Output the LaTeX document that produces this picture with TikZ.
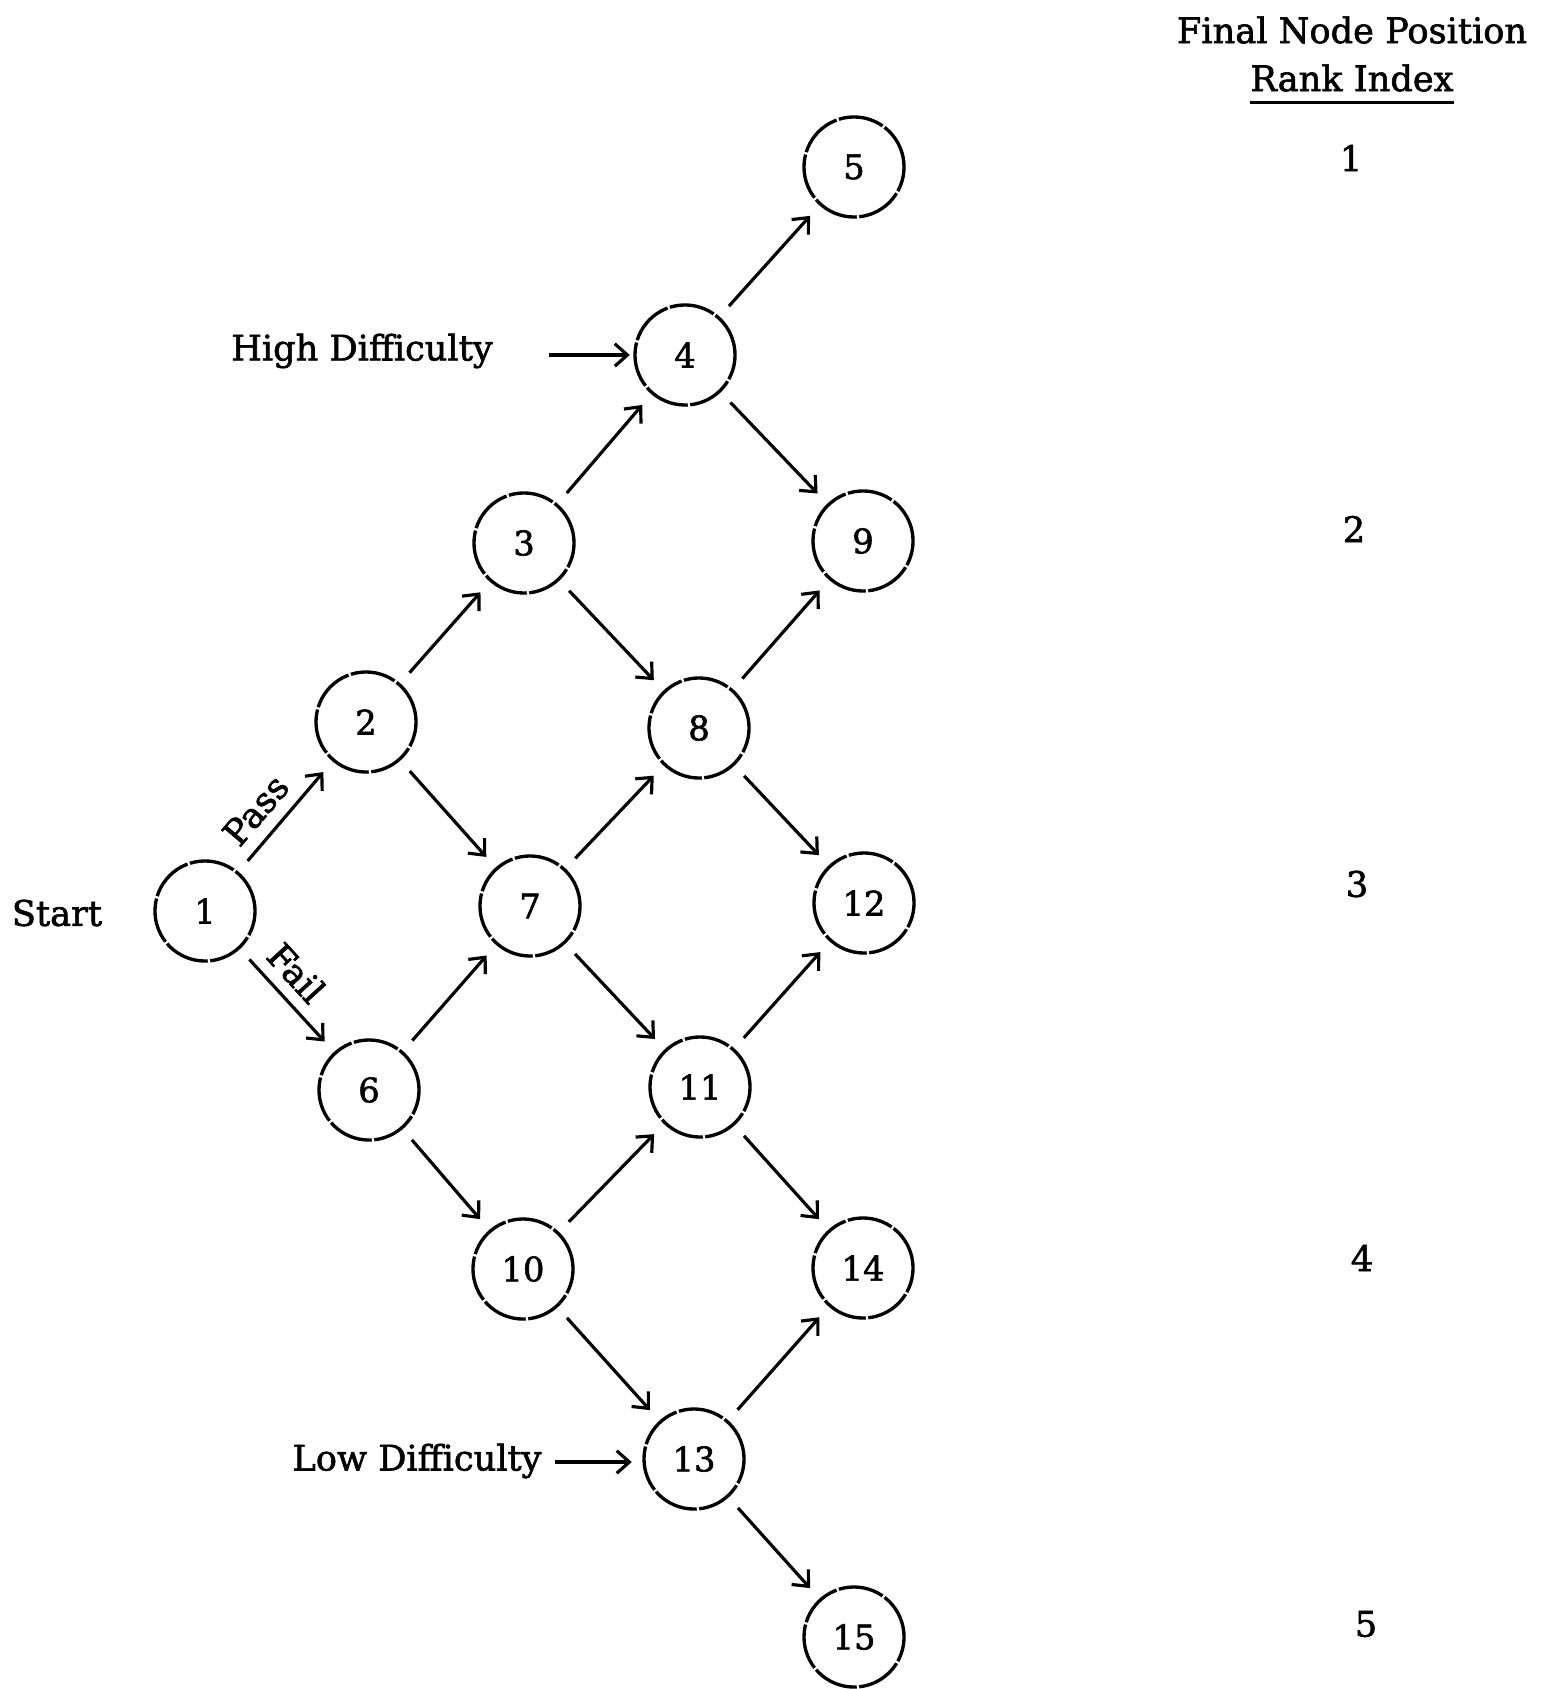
\documentclass[tikz,border=0pt]{standalone}
\usepackage{fontspec}
\setmainfont{DejaVu Serif}[FakeBold=1.7]
\usetikzlibrary{arrows.meta}

\tikzset{
  state/.style={circle, draw, line width=0.95pt, minimum size=1.0cm, inner sep=0pt,
    dash pattern=on 13pt off 0.7pt, font=\fontsize{9.6pt}{11pt}\selectfont},
  tip/.style={-{Straight Barb[length=3.6pt,width=6.4pt,line width=0.9pt]}},
  edge/.style={line width=0.9pt, tip, shorten <=4pt, shorten >=4pt},
  pointer/.style={line width=0.9pt, tip},
  lbl/.style={font=\fontsize{10pt}{12pt}\selectfont},
}

\begin{document}
\begin{tikzpicture}[x=0.01cm, y=-0.01cm, every node/.style={lbl}]
\useasboundingbox (0,0) rectangle (1554,1689);

% lattice of nodes
\node[state] (n1)  at (205, 911) {1};
\node[state] (n2)  at (366, 722) {2};
\node[state] (n3)  at (524, 543) {3};
\node[state] (n4)  at (685, 355) {4};
\node[state] (n5)  at (854, 167) {5};
\node[state] (n6)  at (369,1090) {6};
\node[state] (n7)  at (530, 906) {7};
\node[state] (n8)  at (699, 728) {8};
\node[state] (n9)  at (863, 541) {9};
\node[state] (n10) at (523,1269) {10};
\node[state] (n11) at (700,1087) {11};
\node[state] (n12) at (864, 903) {12};
\node[state] (n13) at (694,1459) {13};
\node[state] (n14) at (863,1268) {14};
\node[state] (n15) at (854,1637) {15};

% transitions
\draw[edge] (n1) -- node[sloped, above, pos=0.4, inner sep=3.5pt] {Pass} (n2);
\draw[edge] (n1) -- node[sloped, above, pos=0.4, inner sep=3pt] {Fail} (n6);
\draw[edge] (n2) -- (n3);
\draw[edge] (n2) -- (n7);
\draw[edge] (n3) -- (n4);
\draw[edge] (n3) -- (n8);
\draw[edge] (n4) -- (n5);
\draw[edge] (n4) -- (n9);
\draw[edge] (n6) -- (n7);
\draw[edge] (n6) -- (n10);
\draw[edge] (n7) -- (n8);
\draw[edge] (n7) -- (n11);
\draw[edge] (n8) -- (n9);
\draw[edge] (n8) -- (n12);
\draw[edge] (n10) -- (n11);
\draw[edge] (n10) -- (n13);
\draw[edge] (n11) -- (n12);
\draw[edge] (n11) -- (n14);
\draw[edge] (n13) -- (n14);
\draw[edge] (n13) -- (n15);

% side labels
\node (start) at (57, 913) {Start};
\node (high) at (362, 351) {High Difficulty};
\coordinate (highend) at (549, 355);
\draw[pointer] (highend) -- ([xshift=-1pt]n4.west);
\node (low) at (417, 1461) {Low Difficulty};
\coordinate (lowend) at (555, 1462);
\draw[pointer] (lowend) -- ([xshift=-3pt]n13.west |- lowend);

% rank index column
\node (title1) at (1352, 30) {Final Node Position};
\node[inner sep=0pt] (title2) at (1352, 78) {Rank Index};
\draw[line width=0.95pt] ([yshift=-3.2pt]title2.base west) -- ([yshift=-3.2pt]title2.base east);
\node (r1) at (1351, 158) {1};
\node (r2) at (1354, 529) {2};
\node (r3) at (1357, 884) {3};
\node (r4) at (1362, 1258) {4};
\node (r5) at (1366, 1624) {5};
\end{tikzpicture}
\end{document}
